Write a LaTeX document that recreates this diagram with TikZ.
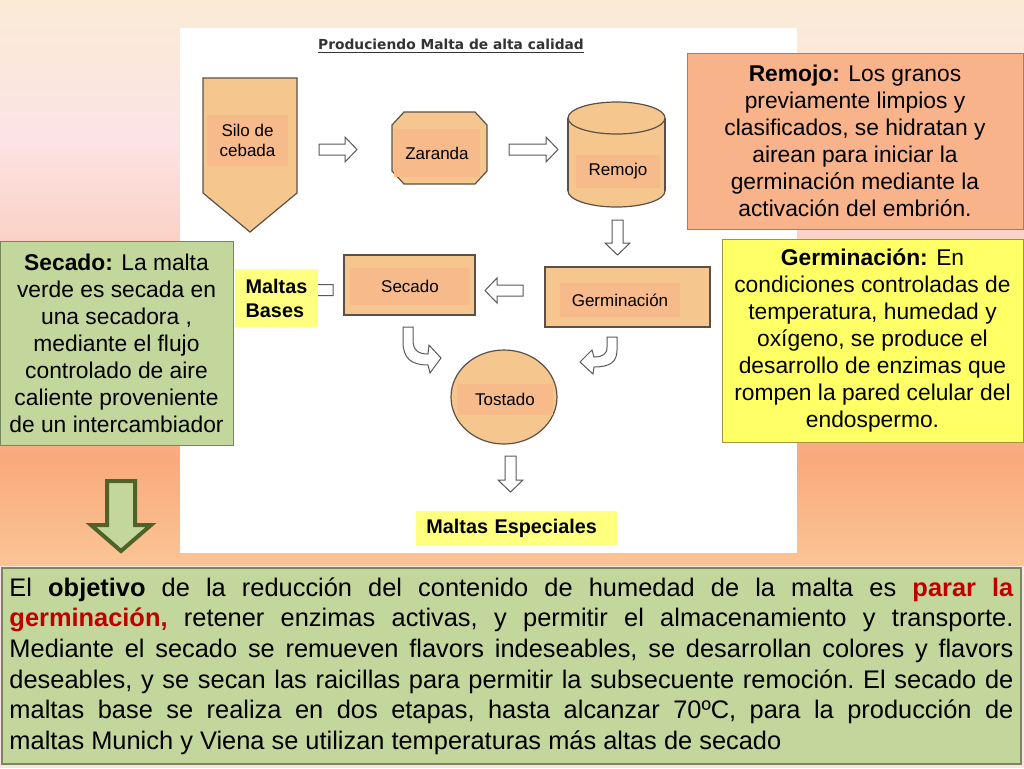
\documentclass[tikz,border=0pt]{standalone}
\usepackage{fontspec}
\setmainfont{Liberation Sans}
\newfontfamily\titlefont{DejaVu Sans}
\usetikzlibrary{shapes.geometric,calc}
\definecolor{maltfill}{HTML}{F5C78F}
\definecolor{maltlbl}{HTML}{F7BA8B}
\definecolor{maltline}{HTML}{5A5048}
\definecolor{salmonbox}{HTML}{F9B38A}
\definecolor{salmonline}{HTML}{DB6A33}
\definecolor{yellowbox}{HTML}{FFFF66}
\definecolor{yellowline}{HTML}{A8923C}
\definecolor{greenbox}{HTML}{C3D69B}
\definecolor{greenline}{HTML}{77885A}
\definecolor{greenedge}{HTML}{4F6228}
\definecolor{tagyellow}{HTML}{FFFF80}
\definecolor{redtxt}{HTML}{C00000}
\definecolor{bgA}{HTML}{FAEBD5}
\definecolor{bgB}{HTML}{FCE3E5}
\definecolor{bgC}{HTML}{F9AA7D}
\definecolor{bgD}{HTML}{FBC595}
\definecolor{bgE}{HTML}{FCE2EA}
\tikzstyle{shapeline} = [draw=maltline, fill=maltfill, line width=0.6pt]
\tikzstyle{lbl} = [fill=maltlbl, inner sep=0pt, align=center, font=\fontsize{8.5}{10}\selectfont]
\tikzstyle{hollow} = [draw=black!65, fill=white, line width=0.5pt]
\tikzstyle{tag} = [fill=tagyellow, inner sep=0pt, align=left, font=\bfseries\fontsize{9.9}{12}\selectfont]
\tikzstyle{infobox} = [line width=0.5pt, inner sep=0pt, align=center, font=\fontsize{11.4}{13.5}\selectfont]
\newcommand{\fullline}[1]{\hbox to 502pt{#1}}
\tikzset{pics/blockarrow/.style={code={
  \draw[hollow] (0,-5.5) -- (#1-12,-5.5) -- (#1-12,-12.5) -- (#1,0) -- (#1-12,12.5) -- (#1-12,5.5) -- (0,5.5) -- cycle;}}}

\begin{document}
\begin{tikzpicture}[x=0.5pt, y=-0.5pt]
        \useasboundingbox (0,0) rectangle (1024,768);
        \shade[top color=bgA, bottom color=bgB] (0,0) rectangle (1024,141);
        \shade[top color=bgB, bottom color=bgC] (0,140) rectangle (1024,461);
        \shade[top color=bgC, bottom color=bgD] (0,460) rectangle (1024,567);
        \fill[bgE] (0,566) rectangle (1024,768);
        \fill[white] (180,28) rectangle (797,553);
        \node[font=\titlefont\bfseries\fontsize{6.9}{8}\selectfont, text=black!80] (title) at (451,46) {\underline{Produciendo Malta de alta calidad}};
        \draw[shapeline] (203,78) -- (297,78) -- (297,193) -- (250,232) -- (203,193) -- cycle;
        \node[lbl, minimum width=40.5pt, minimum height=25.5pt] (silo) at (247.5,140.5) {Silo de\\cebada};
        \draw[shapeline] (404,112) -- (475,112) -- (487,125) -- (487,171) -- (475,184) -- (404,184) -- (392,171) -- (392,125) -- cycle;
        \node[lbl, minimum width=43pt, minimum height=24pt] (zaranda) at (437,153) {Zaranda};
        \draw[shapeline] (616.5,191) ellipse [x radius=48.5, y radius=16];
        \fill[maltfill] (568,118) rectangle (665,191);
        \draw[maltline, line width=0.6pt] (568,118) -- (568,191) (665,118) -- (665,191);
        \draw[shapeline] (616.5,118) ellipse [x radius=48.5, y radius=16];
        \node[lbl, minimum width=42pt, minimum height=16.5pt] (remojo) at (618,171.5) {Remojo};
        \node[shapeline, minimum width=82.5pt, minimum height=30pt] (germ) at (627.5,297) {};
        \node[lbl, minimum width=60pt, minimum height=17pt] (germlbl) at (620,300) {Germinación};
        \node[shapeline, minimum width=65.5pt, minimum height=30pt] (secado) at (409.5,285) {};
        \node[lbl, minimum width=60pt, minimum height=18.5pt] (seclbl) at (410,286.5) {Secado};
        \node[shapeline, ellipse, minimum width=53pt, minimum height=47pt, inner sep=0pt] (tostado) at (504,397) {};
        \node[lbl, minimum width=48pt, minimum height=15.5pt] (toslbl) at (505,399.5) {Tostado};
        \pic at (319,149.5) {blockarrow=38};
        \pic at (509,149.5) {blockarrow=49};
        \pic[rotate=-90] at (617.5,220) {blockarrow=35};
        \pic[rotate=180] at (523,290.5) {blockarrow=38};
        \pic[rotate=180] at (333,290) {blockarrow=40};
        \pic[rotate=-90] at (510.5,456) {blockarrow=36};
        \draw[hollow] (403,327) -- (403,342) .. controls (403,358) and (411,365) .. (428,365) -- (430,373) -- (441,358) -- (429,345) -- (428,354) .. controls (418,354) and (413,350) .. (413,340) -- (413,327) -- cycle;
        \draw[hollow] (617,337) -- (617,350) .. controls (617,362) and (610,367) .. (594,367) -- (593,374) -- (580,362) -- (592,350) -- (594,357) .. controls (603,357) and (607,354) .. (607,347) -- (607,337) -- cycle;
        \node[tag, minimum width=41.5pt, minimum height=29pt] (bases) at (276.5,298) {Maltas\\Bases};
        \node[tag, anchor=west, inner xsep=5pt, text width=90.5pt, minimum height=17pt] (especiales) at (416,528) {Maltas Especiales};
        \node[infobox, fill=salmonbox, draw=salmonline, minimum width=168pt, minimum height=88pt] (remtxt) at (855,141)
            {\textbf{Remojo:} Los granos\\previamente limpios y\\clasificados, se hidratan y\\airean para iniciar la\\germinación mediante la\\activación del embrión.};
        \node[infobox, fill=yellowbox, draw=yellowline, minimum width=150.5pt, minimum height=101.5pt] (germtxt) at (872.5,340.5)
            {\textbf{Germinación:} En\\condiciones controladas de\\temperatura, humedad y\\oxígeno, se produce el\\desarrollo de enzimas que\\rompen la pared celular del\\endospermo.};
        \node[infobox, fill=greenbox, draw=greenline, minimum width=116.5pt, minimum height=102pt] (sectxt) at (116.5,343)
            {\textbf{Secado:} La malta\\verde es secada en\\una secadora ,\\mediante el flujo\\controlado de aire\\caliente proveniente\\de un intercambiador};
        \draw[draw=greenedge, fill=greenbox, line width=2pt] (107,481) -- (135,481) -- (135,525) -- (151,525) -- (121,551) -- (91,525) -- (107,525) -- cycle;
        \node[draw=greenline, fill=greenbox, line width=0.6pt, inner sep=0pt, minimum width=509.5pt, minimum height=98pt, text width=502pt, font=\fontsize{12.7}{15.3}\selectfont] (objtxt) at (511.5,666)
            {\frenchspacing\spaceskip=3.53pt plus 1fil minus 1pt
             \fullline{El \textbf{objetivo} de la reducción del contenido de humedad de la malta es \textcolor{redtxt}{\textbf{parar la}}}
             \fullline{\textcolor{redtxt}{\textbf{germinación,}} retener enzimas activas, y permitir el almacenamiento y transporte.}
             \fullline{Mediante el secado se remueven flavors indeseables, se desarrollan colores y flavors}
             \fullline{deseables, y se secan las raicillas para permitir la subsecuente remoción. El secado de}
             \fullline{maltas base se realiza en dos etapas, hasta alcanzar 70ºC, para la producción de}
             \hbox to 502pt{maltas Munich y Viena se utilizan temperaturas más altas de secado\hfill}};
    \end{tikzpicture}
\end{document}
